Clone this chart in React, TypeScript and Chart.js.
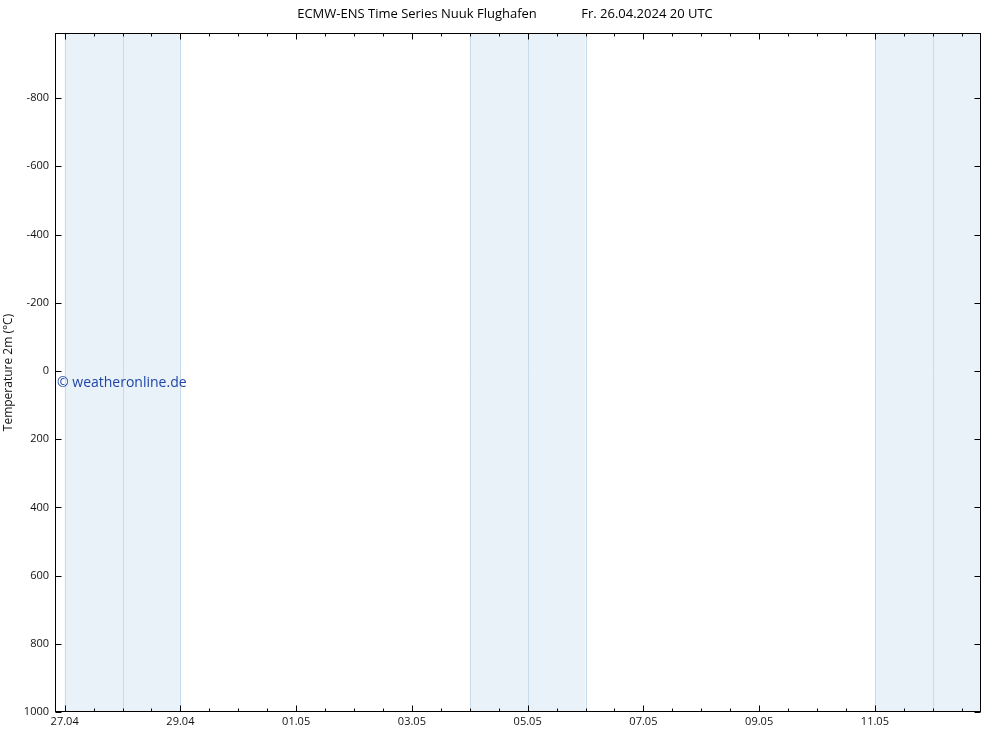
import React, { useEffect, useRef } from 'react';
import { Chart, registerables } from 'chart.js';

Chart.register(...registerables);

// Time axis in hours since 27.04.2024 00 UTC
const xMinHours = -4; // 26.04 20 UTC
const xMaxHours = 380; // 12.05 20 UTC
const xTickHours = [0, 48, 96, 144, 192, 240, 288, 336];
const xTickLabels = ['27.04', '29.04', '01.05', '03.05', '05.05', '07.05', '09.05', '11.05'];
const minorTickStepHours = 12;

const yMin = -991;
const yMax = 1000;
const yTickValues = [-800, -600, -400, -200, 0, 200, 400, 600, 800, 1000];

// Weekend shading (hours)
const weekendStarts = [0, 168, 336];
const weekendEnds = [48, 216, 380];
const dayLines = [0, 24, 48, 168, 192, 216, 336, 360];

// Empty forecast series (no data drawn in the reference)
const seriesValues: { x: number; y: number }[] = [];

const titleLeft = 'ECMW-ENS Time Series Nuuk Flughafen';
const titleRight = 'Fr. 26.04.2024 20 UTC';
const yAxisTitle = 'Temperature 2m (°C)';
const watermark = '© weatheronline.de';

const FONT = '"Open Sans", "Noto Sans", sans-serif';

const decorPlugin = {
  id: 'decor',
  beforeDatasetsDraw(chart: any) {
    const { ctx, chartArea, scales } = chart;
    const { top, bottom } = chartArea;
    const x = scales.x;
    ctx.save();
    ctx.fillStyle = '#e9f1f9';
    for (let i = 0; i < weekendStarts.length; i++) {
      const x0 = x.getPixelForValue(weekendStarts[i]);
      const x1 = x.getPixelForValue(weekendEnds[i]);
      ctx.fillRect(x0, top, x1 - x0, bottom - top);
    }
    ctx.strokeStyle = '#c8dbea';
    ctx.lineWidth = 1;
    for (const h of dayLines) {
      const px = Math.round(x.getPixelForValue(h)) + 0.5;
      ctx.beginPath();
      ctx.moveTo(px, top);
      ctx.lineTo(px, bottom);
      ctx.stroke();
    }
    ctx.restore();
  },
  afterDraw(chart: any) {
    const { ctx, chartArea, scales } = chart;
    const { top, bottom, left, right } = chartArea;
    const x = scales.x;
    const y = scales.y;
    ctx.save();
    // frame
    ctx.strokeStyle = '#000';
    ctx.lineWidth = 1;
    const L = Math.round(left) + 0.5;
    const R = Math.round(right) - 0.5;
    const T = Math.round(top) + 0.5;
    const B = Math.round(bottom) - 0.5;
    ctx.strokeRect(L, T, R - L, B - T);
    // x tick marks (inward, top and bottom)
    ctx.beginPath();
    for (let h = 0; h <= xMaxHours; h += minorTickStepHours) {
      const px = Math.round(x.getPixelForValue(h)) + 0.5;
      const len = xTickHours.includes(h) ? 6 : 3;
      ctx.moveTo(px, B);
      ctx.lineTo(px, B - len);
      ctx.moveTo(px, T);
      ctx.lineTo(px, T + len);
    }
    // y tick marks (inward, left and right)
    for (const v of yTickValues) {
      const py = Math.round(y.getPixelForValue(v)) + 0.5;
      ctx.moveTo(L, py);
      ctx.lineTo(L + 6, py);
      ctx.moveTo(R, py);
      ctx.lineTo(R - 6, py);
    }
    ctx.stroke();

    // title
    ctx.fillStyle = '#000';
    ctx.font = `13px ${FONT}`;
    ctx.textBaseline = 'middle';
    ctx.textAlign = 'center';
    ctx.fillText(titleLeft, 417, 14);
    ctx.fillText(titleRight, 647, 14);

    // y axis title
    ctx.save();
    ctx.font = `12px ${FONT}`;
    ctx.translate(9, (top + bottom) / 2);
    ctx.rotate(-Math.PI / 2);
    ctx.textAlign = 'center';
    ctx.textBaseline = 'middle';
    ctx.fillStyle = '#111';
    ctx.fillText(yAxisTitle, 0, 0);
    ctx.restore();

    // watermark
    ctx.font = `14px ${FONT}`;
    ctx.fillStyle = '#1f45a6';
    ctx.textAlign = 'left';
    ctx.textBaseline = 'middle';
    ctx.fillText(watermark, left + 2, y.getPixelForValue(35));
    ctx.restore();
  },
};

export default function App() {
  const canvasRef = useRef<HTMLCanvasElement | null>(null);

  useEffect(() => {
    const canvas = canvasRef.current;
    if (!canvas) return;
    const chart = new Chart(canvas, {
      type: 'scatter',
      data: {
        datasets: [
          {
            label: 'T2m',
            data: seriesValues,
            borderColor: '#000',
            showLine: true,
            pointRadius: 0,
          },
        ],
      },
      options: {
        animation: false,
        responsive: false,
        devicePixelRatio: 1,
        layout: { padding: { top: 33, right: 19, left: 0, bottom: 0 } },
        plugins: {
          legend: { display: false },
          tooltip: { enabled: false },
          title: { display: false },
        },
        scales: {
          x: {
            type: 'linear',
            min: xMinHours,
            max: xMaxHours,
            grid: { display: false, drawTicks: false },
            border: { display: false },
            afterBuildTicks: (scale: any) => {
              scale.ticks = xTickHours.map((v) => ({ value: v }));
            },
            afterFit: (scale: any) => {
              scale.height = 21;
            },
            ticks: {
              autoSkip: false,
              maxRotation: 0,
              minRotation: 0,
              padding: 3,
              color: '#111',
              font: { family: FONT, size: 11 },
              callback: (_v: any, i: number) => xTickLabels[i],
            },
          },
          y: {
            type: 'linear',
            reverse: true,
            min: yMin,
            max: yMax,
            grid: { display: false, drawTicks: false },
            border: { display: false },
            afterBuildTicks: (scale: any) => {
              scale.ticks = yTickValues.map((v) => ({ value: v }));
            },
            afterFit: (scale: any) => {
              scale.width = 55;
            },
            ticks: {
              autoSkip: false,
              padding: 6,
              color: '#111',
              font: { family: FONT, size: 11 },
              callback: (v: any) => String(v),
            },
          },
        },
      },
      plugins: [decorPlugin],
    });
    return () => chart.destroy();
  }, []);

  return (
    <div style={{ position: 'absolute', left: 0, top: 0, width: 1000, height: 733, background: '#fff' }}>
      <canvas ref={canvasRef} width={1000} height={733} style={{ display: 'block' }} />
    </div>
  );
}
